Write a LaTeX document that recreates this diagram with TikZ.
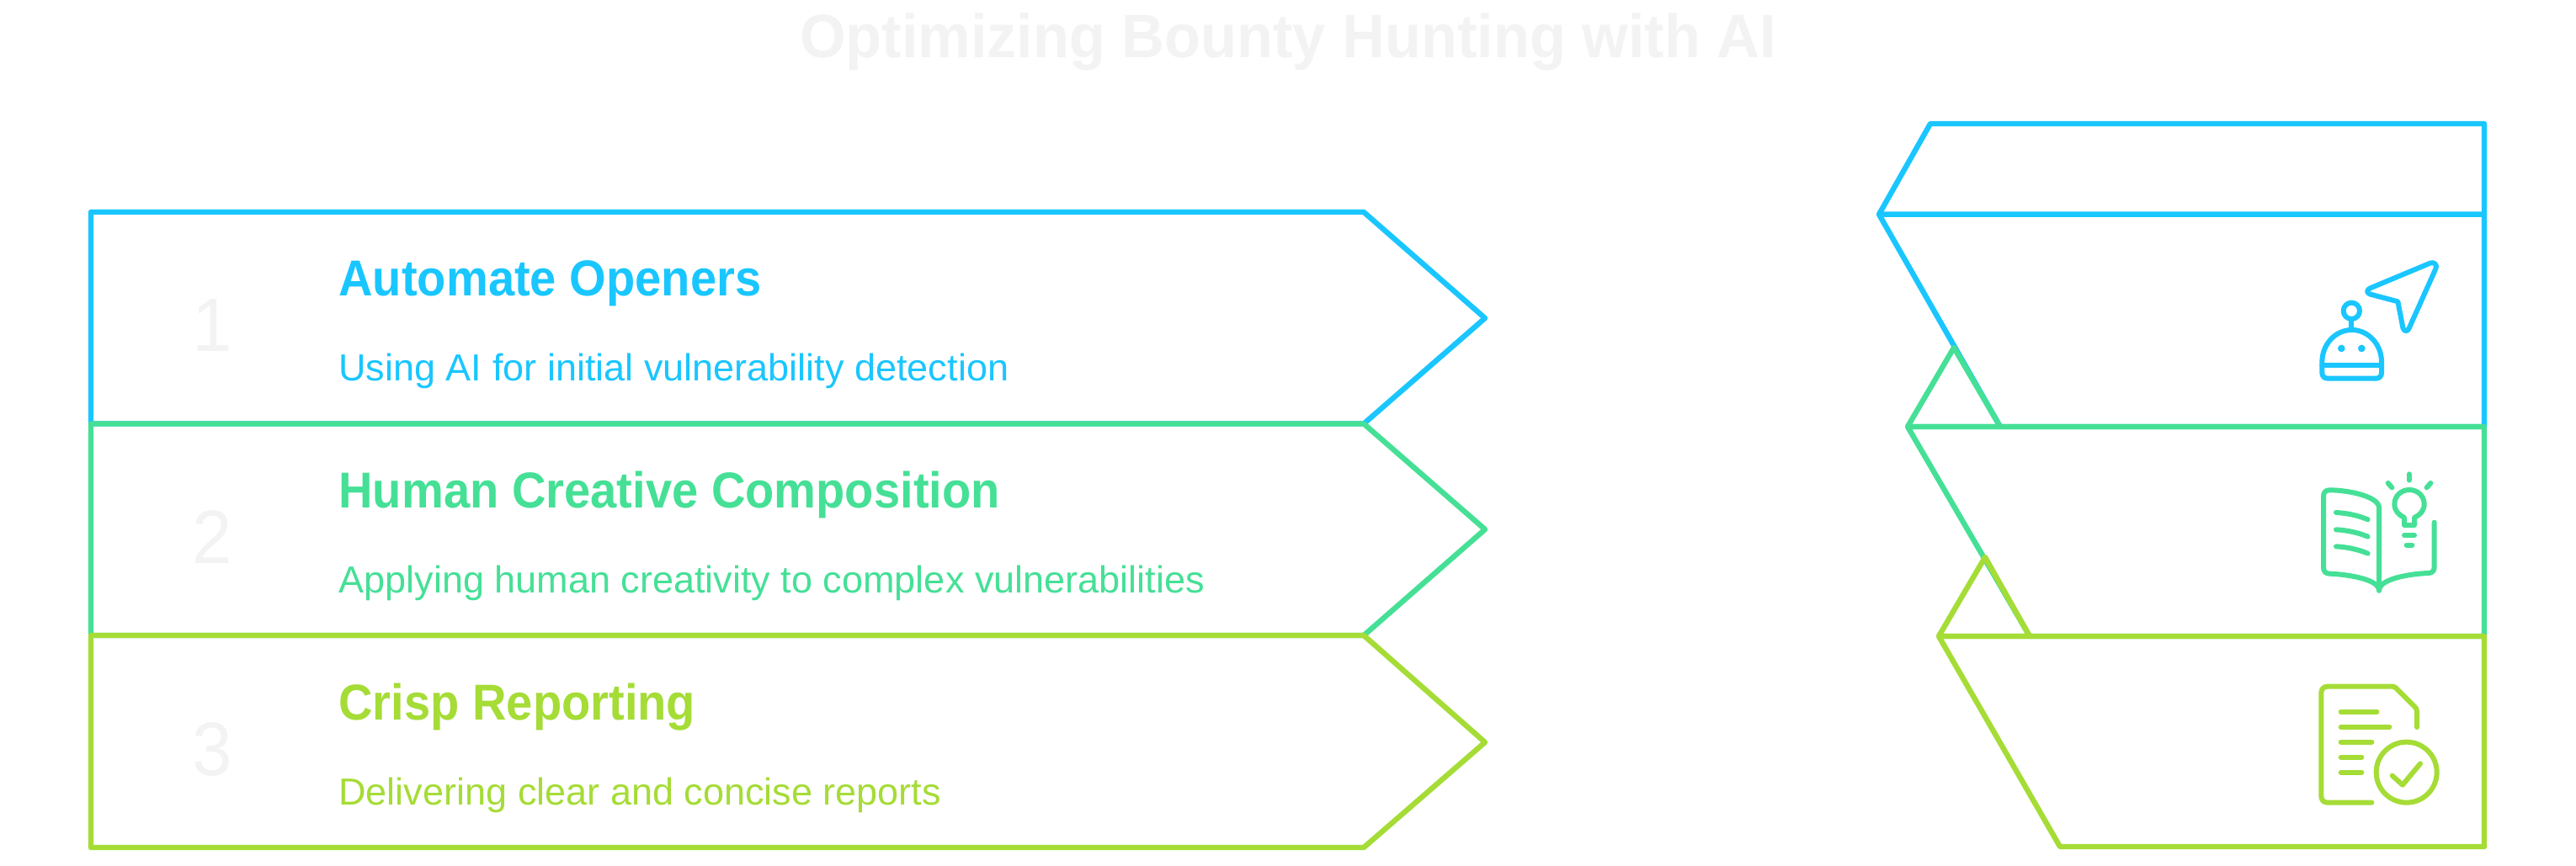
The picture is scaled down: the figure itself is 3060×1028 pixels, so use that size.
\documentclass[tikz,border=0pt]{standalone}
\usepackage{fontspec}
\setmainfont{Liberation Sans}
\newfontfamily\titlef[FakeStretch=0.963]{Liberation Sans}
\newfontfamily\headf[FakeStretch=0.935]{Liberation Sans}
\newfontfamily\descf[FakeStretch=1.005]{Liberation Sans}
\newfontfamily\numf[FakeStretch=0.95]{Liberation Sans}
\definecolor{cblue}{HTML}{1AC6FF}
\definecolor{cgreen}{HTML}{45E096}
\definecolor{cyel}{HTML}{A5DC36}
\definecolor{cgrey}{HTML}{F3F3F3}
\tikzset{
  edge/.style={line width=3.2pt,line join=round,line cap=round},
  ico/.style={line width=3pt,line join=round,line cap=round},
  titletext/.style={anchor=base,inner sep=0pt,text=cgrey,font=\titlef\fontsize{36.5}{44}\selectfont\bfseries},
  numtext/.style={anchor=base,inner sep=0pt,text=cgrey,font=\numf\fontsize{45}{54}\selectfont},
  headtext/.style={anchor=base west,inner sep=0pt,font=\headf\fontsize{30}{36}\selectfont\bfseries},
  desctext/.style={anchor=base west,inner sep=0pt,font=\descf\fontsize{22.4}{28}\selectfont},
}
\begin{document}
\begin{tikzpicture}[x=0.5pt,y=-0.5pt]
\useasboundingbox (0,0) rectangle (3060,1028);
\fill[white] (0,0) rectangle (3060,1028);
\node[titletext] (title) at (1530,68) {Optimizing Bounty Hunting with AI};
% left arrows
\draw[edge,cblue] (108,252) -- (1620,252) -- (1764,378) -- (1620,503.5) -- (108,503.5) -- cycle;
\draw[edge,cgreen] (108,503.5) -- (1620,503.5) -- (1764,629) -- (1620,755) -- (108,755) -- cycle;
\draw[edge,cyel] (108,755) -- (1620,755) -- (1764,882) -- (1620,1007) -- (108,1007) -- cycle;
% left texts
\node[numtext] (n1) at (252,417) {1};
\node[numtext] (n2) at (252,669) {2};
\node[numtext] (n3) at (252,921) {3};
\node[headtext,text=cblue] (h1) at (402,351) {Automate Openers};
\node[desctext,text=cblue] (d1) at (402,452) {Using AI for initial vulnerability detection};
\node[headtext,text=cgreen] (h2) at (402,603) {Human Creative Composition};
\node[desctext,text=cgreen] (d2) at (402,704) {Applying human creativity to complex vulnerabilities};
\node[headtext,text=cyel] (h3) at (402,855) {Crisp Reporting};
\node[desctext,text=cyel] (d3) at (402,956) {Delivering clear and concise reports};
% right funnel
\draw[edge,cblue] (2293,147) -- (2951,147) -- (2951,254.7) -- (2232,254.7) -- cycle;
\draw[edge,cblue] (2232,254.7) -- (2951,254.7) -- (2951,507) -- (2376,507) -- cycle;
\draw[edge,cgreen] (2321,413) -- (2266,507) -- (2376,507) -- cycle;
\draw[edge,cgreen] (2266,507) -- (2951,507) -- (2951,756) -- (2411,756) -- cycle;
\draw[edge,cyel] (2358,662) -- (2303,756) -- (2411,756) -- cycle;
\draw[edge,cyel] (2303,756) -- (2951,756) -- (2951,1006) -- (2447,1006) -- cycle;
% icon 1
\begin{scope}[shift={(2720,290)},x=0.5pt/3,y=-0.5pt/3]
\begin{scope}[ico,cblue]
\draw (115,420) .. controls (115,358) and (162,306) .. (221,306) .. controls (280,306) and (327,358) .. (327,420) -- (327,459) .. controls (327,471) and (319,479) .. (307,479) -- (135,479) .. controls (123,479) and (115,471) .. (115,459) -- cycle;
\draw (115,432) -- (327,432);
\draw (220,238) circle [radius=29];
\draw (220,267) -- (220,306);
\fill (184,372) circle [radius=13];
\fill (256,372) circle [radius=13];
\draw (500,68) .. controls (514,62) and (527,74) .. (520,88) -- (425,300) .. controls (419,314) and (407,312) .. (403,298) -- (385,205) -- (287,179) .. controls (273,175) and (273,163) .. (287,157) -- cycle;
\end{scope}
\end{scope}
% icon 2
\begin{scope}[shift={(2740,550)},x=0.5pt/3,y=-0.5pt/3]
\begin{scope}[ico,cgreen]
\draw (258,455) -- (258,160) .. controls (258,120) and (150,97) .. (82,97) .. controls (68,97) and (60,105) .. (60,118) -- (60,373) .. controls (60,387) and (68,395) .. (82,395) .. controls (150,398) and (258,415) .. (258,455);
\draw (258,455) .. controls (258,415) and (360,396) .. (433,393) .. controls (447,393) and (455,385) .. (455,372) -- (455,212);
\draw (105,177) .. controls (145,179) and (185,188) .. (218,202);
\draw (105,238) .. controls (145,240) and (185,249) .. (218,263);
\draw (105,298) .. controls (145,300) and (185,309) .. (218,323);
\draw (348,195) .. controls (328,186) and (313,170) .. (313,147) .. controls (313,118) and (337,96) .. (366,96) .. controls (395,96) and (419,118) .. (419,147) .. controls (419,170) and (404,186) .. (384,195) -- (384,222) -- (348,222) -- cycle;
\draw (366,40) -- (366,62);
\draw (290,72) -- (304,88);
\draw (442,72) -- (428,88);
\draw (348,258) -- (384,258);
\draw (356,293) -- (376,293);
\end{scope}
\end{scope}
% icon 3
\begin{scope}[shift={(2740,800)},x=0.5pt/3,y=-0.5pt/3]
\begin{scope}[ico,cyel]
\draw (232,461) -- (75,461) .. controls (61,461) and (52,452) .. (52,438) -- (52,70) .. controls (52,56) and (61,47) .. (75,47) -- (305,47) .. controls (312,47) and (316,50) .. (320,54) -- (384,118) .. controls (390,124) and (393,128) .. (393,136) -- (393,192);
\draw (122,137) -- (250,137);
\draw (122,191) -- (295,191);
\draw (122,245) -- (232,245);
\draw (122,299) -- (196,299);
\draw (122,353) -- (196,353);
\draw (356,353) circle [radius=108];
\draw (305,365) -- (342,398) -- (405,322);
\end{scope}
\end{scope}
\end{tikzpicture}
\end{document}
